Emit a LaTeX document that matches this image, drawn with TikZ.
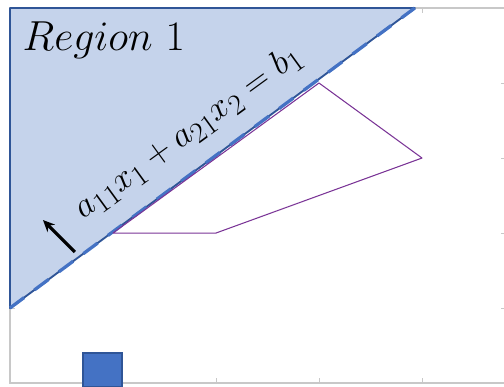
\documentclass[tikz,border=0pt]{standalone}
\usetikzlibrary{arrows.meta, calc}
\definecolor{DB}{RGB}{47,85,151}
\definecolor{MB}{RGB}{68,114,196}
\definecolor{LB}{RGB}{197,211,235}
\definecolor{PU}{RGB}{122,52,150}
\definecolor{GR}{RGB}{200,200,200}

\begin{document}
\begin{tikzpicture}[x=3.09cm, y=2.25cm,
  frame/.style={draw=GR, line width=1.2pt},
  axtick/.style={draw=GR, line width=0.8pt},
  region/.style={fill=LB, draw=DB, line width=1.6pt, line join=round},
  bound/.style={draw=MB, line width=2.8pt, dash pattern=on 15pt off 11pt},
  feas/.style={draw=PU, line width=0.9pt, line join=round},
  dirarr/.style={-{Stealth[length=10pt, width=9pt]}, line width=2.6pt, draw=black},
  lbl/.style={font=\Huge, text=black, inner sep=0pt, scale=#1}
]
\useasboundingbox (-0.097,-0.04) rectangle (4.796,5.107);
\clip (-0.097,-0.04) rectangle (4.796,5.107);

% Axes frame and ticks
\draw[frame] (0,0) rectangle (4.82,5);
\foreach \i in {1,...,4} {
  \draw[axtick] (\i,0) -- ++(0,0.07);
  \draw[axtick] (\i,5) -- ++(0,-0.07);
  \draw[axtick] (0,\i) -- ++(0.05,0);
  \draw[axtick] (4.82,\i) -- ++(-0.05,0);
}

% Region 1 (half-plane)
\coordinate (lo) at (0,1);
\coordinate (hi) at (3.93,5);
\coordinate (tl) at (0,5);
\draw[region] (lo) -- (hi) -- (tl) -- cycle;
\draw[bound] (lo) -- (hi);

% Feasible polygon
\coordinate (p1) at (1,2);
\coordinate (p2) at (2,2);
\coordinate (p3) at (4,3);
\coordinate (p4) at (3,4);
\draw[feas] (p1) -- (p2) -- (p3) -- (p4) -- cycle;

% Labels
\node[lbl=1.44, anchor=base west] (reg) at (0.12,4.43) {$Region\ 1$};
\node[lbl=1.2, anchor=base, rotate=36] (eqn) at (1.78,3.24)
  {$a_{11}x_1+a_{21}x_2=b_1$};

% Direction arrow
\coordinate (at) at (0.63,1.747);
\coordinate (ah) at (0.32,2.173);
\draw[dirarr] (at) -- (ah);

% Marker
\draw[fill=MB, draw=DB, line width=1.4pt] (0.709,-0.05) rectangle (1.087,0.4);
\end{tikzpicture}
\end{document}
